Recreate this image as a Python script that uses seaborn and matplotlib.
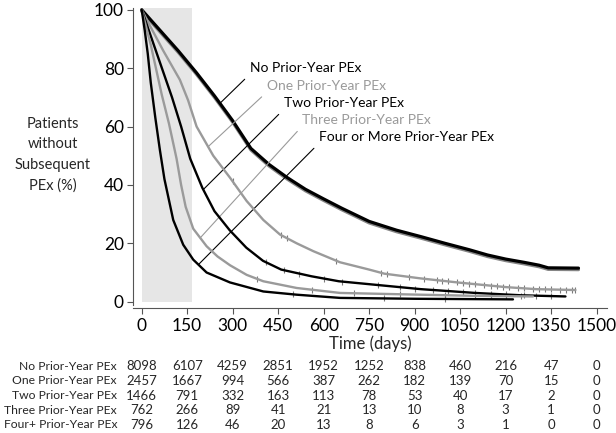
import numpy as np
import pandas as pd
import matplotlib
matplotlib.use("Agg")
import matplotlib.pyplot as plt
import matplotlib.patheffects as pe
import matplotlib.transforms as mtransforms
import seaborn as sns

# Kaplan-Meier style curves (day, % without subsequent PEx)
no_days = [0, 60, 120, 180, 240, 300, 360, 420, 480, 540, 600, 660, 750, 840, 920, 1000, 1080, 1140, 1200, 1260, 1310, 1340, 1440]
no_vals = [100, 93, 86, 78.5, 70.5, 62, 52.5, 47, 42.5, 38.5, 35.2, 32, 27.5, 24.5, 22.3, 20, 17.8, 16, 14.6, 13.5, 12.5, 11.6, 11.5]

one_days = [0, 30, 71, 126, 153, 181, 236, 291, 346, 401, 456, 511, 566, 654, 750, 800, 918, 1050, 1200, 1300, 1430]
one_vals = [100, 94, 86, 76, 69, 60, 50, 42.5, 34.5, 28, 23, 20, 17.3, 13.5, 11, 9.6, 8, 6.5, 5, 4.3, 4]

two_days = [0, 50, 100, 130, 160, 200, 240, 290, 345, 400, 460, 560, 650, 800, 920, 1100, 1250, 1397]
two_vals = [100, 85, 70, 60, 49, 39, 31, 24.5, 18.5, 14, 11, 8.7, 7, 5.5, 4.3, 3, 2.2, 1.8]

three_days = [0, 30, 66, 90, 115, 130, 145, 170, 214, 250, 291, 346, 401, 511, 654, 918, 1100, 1290]
three_vals = [100, 88, 71, 61, 49, 40, 32.5, 25, 19, 15.5, 12.5, 9.2, 7, 4.7, 3, 2.4, 2, 1.8]

four_days = [0, 10, 20, 30, 45, 60, 75, 104, 137, 170, 214, 291, 401, 511, 654, 900, 1224]
four_vals = [100, 93, 85, 75, 63, 52, 42, 28, 19.5, 14.4, 10, 6.6, 3.5, 2.4, 1.3, 1, 0.8]

# censoring ticks (days)
one_cens = [300, 460, 480, 640, 790, 810, 880, 930, 975, 990, 1010, 1040, 1060, 1080, 1100, 1130,
            1150, 1170, 1190, 1210, 1240, 1260, 1290, 1310, 1330, 1350, 1380, 1400, 1420, 1430]
two_cens = [410, 470, 520, 600, 660, 780, 850, 900, 960, 1010, 1060, 1100, 1150, 1200, 1260, 1300, 1350]
three_cens = [380, 560, 700, 850, 1000, 1100, 1150, 1200, 1250]
four_cens = [500, 800, 1000]

labels = ["No Prior-Year PEx", "One Prior-Year PEx", "Two Prior-Year PEx",
          "Three Prior-Year PEx", "Four or More Prior-Year PEx"]
row_labels = ["No Prior-Year PEx", "One Prior-Year PEx", "Two Prior-Year PEx",
              "Three Prior-Year PEx", "Four+ Prior-Year PEx"]
risk_days = [0, 150, 300, 450, 600, 750, 900, 1050, 1200, 1350, 1500]
risk_no = [8098, 6107, 4259, 2851, 1952, 1252, 838, 460, 216, 47, 0]
risk_one = [2457, 1667, 994, 566, 387, 262, 182, 139, 70, 15, 0]
risk_two = [1466, 791, 332, 163, 113, 78, 53, 40, 17, 2, 0]
risk_three = [762, 266, 89, 41, 21, 13, 10, 8, 3, 1, 0]
risk_four = [796, 126, 46, 20, 13, 8, 6, 3, 1, 0, 0]

sns.set_theme(style="ticks")
plt.rcParams["font.family"] = ["Lato", "DejaVu Sans"]

GRAY = "#9a9a9a"
fig = plt.figure(figsize=(6.16, 4.33), dpi=100)
ax = fig.add_axes([133 / 616, 1 - 305 / 433, 474 / 616, 297 / 433])
ax.set_xlim(-28.6, 1534)
ax.set_ylim(-1.13, 100.6)

# shaded first 167 days
ax.fill_between([0, 167], 0, 100.6, color="#e6e6e6", lw=0, zorder=0)

groups = [
    (no_days, no_vals, "black", 2.3, []),
    (one_days, one_vals, GRAY, 1.7, one_cens),
    (two_days, two_vals, "black", 1.7, two_cens),
    (three_days, three_vals, GRAY, 1.7, three_cens),
    (four_days, four_vals, "black", 1.7, four_cens),
]
for i, (d, v, c, lw, cens) in enumerate(groups):
    df = pd.DataFrame({"day": d, "pct": v})
    line = sns.lineplot(data=df, x="day", y="pct", ax=ax, color=c, lw=lw, sort=False, zorder=3 + i)
    if i == 0:
        line.lines[-1].set_path_effects([
            pe.SimpleLineShadow(offset=(0, -1.1), shadow_color="#858585", alpha=1, rho=1),
            pe.Normal()])
    if cens:
        ax.plot(cens, np.interp(cens, d, v), ls="none", marker="|", ms=5, mew=0.8,
                color="#7a7a7a", zorder=2)

# labels with pointer lines
text_pos = [(357, 80.0), (413, 73.9), (469, 68.0), (529, 62.2), (585, 56.4)]
pointer_days = [258, 219, 203, 193, 187]
for (d, v, c, lw, cens), lab, tp, pdy in zip(groups, labels, text_pos, pointer_days):
    ax.annotate(lab, xy=(pdy, np.interp(pdy, d, v)), xytext=tp, ha="left", va="center",
                fontsize=10, color=c,
                arrowprops=dict(arrowstyle="-", color=c, lw=0.8, relpos=(0, 0),
                                shrinkA=2, shrinkB=0))

ax.set_xticks(risk_days)
ax.set_yticks([0, 20, 40, 60, 80, 100])
ax.tick_params(axis="both", direction="out", length=4.5, width=0.8, color="#555555",
               labelsize=12.5, pad=2, labelcolor="black")
ax.tick_params(axis="x", pad=3)
for s in ["top", "right"]:
    ax.spines[s].set_visible(False)
for s in ["left", "bottom"]:
    ax.spines[s].set_color("#555555")
    ax.spines[s].set_linewidth(0.8)
ax.spines["bottom"].set_position(("outward", 2.2))
ax.set_xlabel("Time (days)", fontsize=12, labelpad=1)
ax.set_ylabel("")
fig.text(53 / 616, 1 - 155 / 433, "Patients\nwithout\nSubsequent\nPEx (%)", ha="center",
         va="center", fontsize=10.5, linespacing=1.6)

# numbers at risk
trans = mtransforms.blended_transform_factory(ax.transData, fig.transFigure)
row_y = [366, 381, 395.7, 410, 425]
for lab, counts, yy in zip(row_labels, [risk_no, risk_one, risk_two, risk_three, risk_four], row_y):
    fy = 1 - yy / 433
    fig.text(117 / 616, fy, lab, ha="right", va="center", fontsize=8.7)
    for dd, n in zip(risk_days, counts):
        ax.text(dd, fy, str(n), transform=trans, ha="center", va="center", fontsize=9.5)

plt.savefig("out.png", dpi=100)
